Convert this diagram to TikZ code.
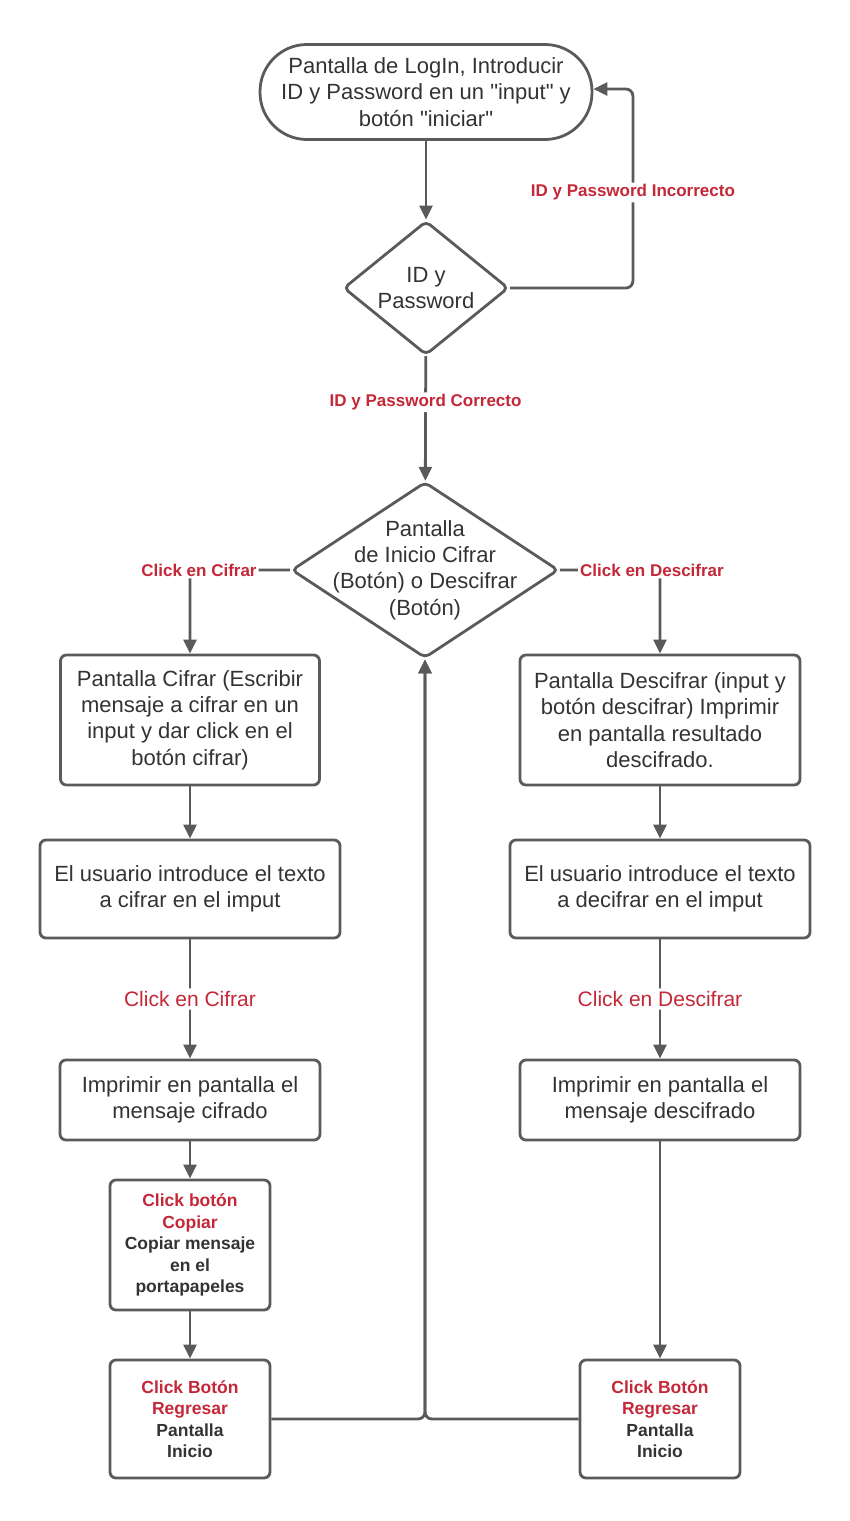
\documentclass[tikz,border=0pt]{standalone}
\usepackage{fontspec}
\setmainfont{Liberation Sans}
\usetikzlibrary{shapes,arrows.meta,positioning}
\definecolor{linegray}{RGB}{90,90,90}
\definecolor{labelred}{RGB}{196,40,56}
\definecolor{textdark}{RGB}{51,51,51}

\begin{document}
\begin{tikzpicture}[x=1pt,y=-1pt,
  box/.style={draw=linegray, line width=2.8pt, rounded corners=6pt, inner sep=0pt, align=center, text=textdark, font=\fontsize{22}{26.4}\selectfont},
  boldbox/.style={box, font=\bfseries\fontsize{17.5}{21.5}\selectfont},
  decision/.style={draw=linegray, line width=2.8pt, diamond, inner sep=0pt, rounded corners=5pt},
  txt/.style={align=center, text=textdark, font=\fontsize{22}{26.4}\selectfont},
  flow/.style={draw=linegray, line width=2.8pt, rounded corners=7pt, -{Triangle[length=14pt,width=13pt]}},
  cond/.style={fill=white, text=labelred, inner sep=2pt, font=\bfseries\fontsize{17}{20}\selectfont},
  click/.style={fill=white, text=labelred, inner sep=3pt, font=\fontsize{21}{25}\selectfont}
]
\useasboundingbox (0,0) rectangle (850,1521);

% Login
\node[box, rounded corners=47pt, minimum width=332pt, minimum height=95pt] (login) at (426,92)
  {Pantalla de LogIn, Introducir\\ID y Password en un \textquotedbl input\textquotedbl{} y\\botón \textquotedbl iniciar\textquotedbl};
\node[decision, minimum width=165pt, minimum height=134pt] (idpw) at (426,288) {};
\node[txt] at (idpw) {ID y\\Password};

% Menu
\node[decision, minimum width=267pt, minimum height=176pt] (menu) at (425,570) {};
\node[txt] at (menu) {Pantalla\\de Inicio Cifrar\\(Botón) o Descifrar\\(Botón)};

% Cifrar
\node[box, minimum width=259pt, minimum height=130pt] (cif) at (190,720)
  {Pantalla Cifrar (Escribir\\mensaje a cifrar en un\\input y dar click en el\\botón cifrar)};
\node[box, minimum width=300pt, minimum height=98pt] (cifin) at (190,889)
  {El usuario introduce el texto\\a cifrar en el imput};
\node[box, minimum width=260pt, minimum height=80pt] (cifout) at (190,1100)
  {Imprimir en pantalla el\\mensaje cifrado};
\node[boldbox, minimum width=160pt, minimum height=130pt] (copiar) at (190,1245)
  {\textcolor{labelred}{Click botón}\\\textcolor{labelred}{Copiar}\\Copiar mensaje\\en el\\portapapeles};
\node[boldbox, minimum width=160pt, minimum height=118pt] (regcif) at (190,1419)
  {\textcolor{labelred}{Click Botón}\\\textcolor{labelred}{Regresar}\\Pantalla\\Inicio};

% Descifrar
\node[box, minimum width=280pt, minimum height=130pt] (des) at (660,720)
  {Pantalla Descifrar (input y\\botón descifrar) Imprimir\\en pantalla resultado\\descifrado.};
\node[box, minimum width=300pt, minimum height=98pt] (desin) at (660,889)
  {El usuario introduce el texto\\a decifrar en el imput};
\node[box, minimum width=280pt, minimum height=80pt] (desout) at (660,1100)
  {Imprimir en pantalla el\\mensaje descifrado};
\node[boldbox, minimum width=160pt, minimum height=118pt] (regdes) at (660,1419)
  {\textcolor{labelred}{Click Botón}\\\textcolor{labelred}{Regresar}\\Pantalla\\Inicio};

% Connectors
\draw[flow] (login) -- (idpw);
\draw[flow] (idpw.east) -- ++(123,0) |- node[cond, pos=0.24] {ID y Password Incorrecto} ([yshift=3pt]login.east);
\draw[flow] (idpw) -- node[cond, pos=0.37] {ID y Password Correcto} (menu);
\draw[flow] (menu.west) -| node[cond, pos=0.5, xshift=9pt] {Click en Cifrar} (cif.north);
\draw[flow] (menu.east) -| node[cond, pos=0.5, xshift=-8pt] {Click en Descifrar} (des.north);

\draw[flow] (cif) -- (cifin);
\draw[flow] (cifin) -- node[click] {Click en Cifrar} (cifout);
\draw[flow] (cifout) -- (copiar);
\draw[flow] (copiar) -- (regcif);

\draw[flow] (des) -- (desin);
\draw[flow] (desin) -- node[click] {Click en Descifrar} (desout);
\draw[flow] (desout) -- (regdes);

% Back to menu
\draw[flow] (regcif.east) -| (menu.south);
\draw[flow] (regdes.west) -| (menu.south);
\end{tikzpicture}
\end{document}
